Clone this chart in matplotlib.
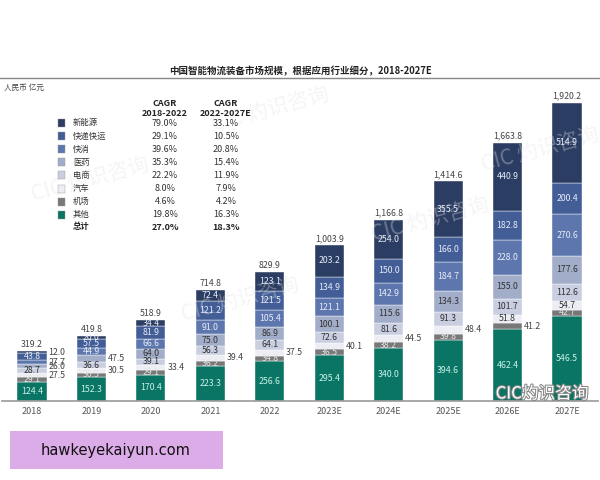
import matplotlib.pyplot as plt
import matplotlib.patheffects as pe
import numpy as np

plt.rcParams['font.family'] = ['Noto Sans CJK SC', 'DejaVu Sans']

# data (亿元), stacked bottom -> top
years = ['2018', '2019', '2020', '2021', '2022', '2023E', '2024E', '2025E', '2026E', '2027E']
series = ['其他', '机场', '汽车', '电商', '医药', '快消', '快递快运', '新能源']
qita = [124.4, 152.3, 170.4, 223.3, 256.6, 295.4, 340.0, 394.6, 462.4, 546.5]
jichang = [29.1, 30.5, 29.1, 36.2, 34.8, 36.5, 38.2, 39.8, 41.2, 42.7]
qiche = [27.5, 30.5, 33.4, 39.4, 37.5, 40.1, 44.5, 48.4, 51.8, 54.7]
dianshang = [28.7, 36.6, 39.1, 56.3, 64.1, 72.6, 81.6, 91.3, 101.7, 112.6]
yiyao = [26.0, 47.5, 64.0, 75.0, 86.9, 100.1, 115.6, 134.3, 155.0, 177.6]
kuaixiao = [27.7, 44.9, 66.6, 91.0, 105.4, 121.1, 142.9, 184.7, 228.0, 270.6]
kuaidi = [43.8, 57.5, 81.9, 121.2, 121.5, 134.9, 150.0, 166.0, 182.8, 200.4]
xinnengyuan = [12.0, 20.0, 34.4, 72.4, 123.1, 203.2, 254.0, 355.5, 440.9, 514.9]
totals = [319.2, 419.8, 518.9, 714.8, 829.9, 1003.9, 1166.8, 1414.6, 1663.8, 1920.2]

cagr_1822 = ['19.8%', '4.6%', '8.0%', '22.2%', '35.3%', '39.6%', '29.1%', '79.0%']
cagr_2227 = ['16.3%', '4.2%', '7.9%', '11.9%', '15.4%', '20.8%', '10.5%', '33.1%']

values = [qita, jichang, qiche, dianshang, yiyao, kuaixiao, kuaidi, xinnengyuan]
colors = ['#0b7565', '#787878', '#eceef4', '#c9cee1', '#a2adc9', '#5d76ad', '#435e97', '#2c3d63']
text_colors = ['#c8f2ea', '#e6e6e6', '#333333', '#333333', '#333333', '#e6ecf8', '#e6ecf8', '#e6ecf8']

# labels drawn to the right of the bar (series index, year index)
outside = {(7, 0), (5, 0), (4, 0), (2, 0), (4, 1), (2, 1), (2, 2), (2, 3), (2, 4),
           (2, 5), (2, 6), (2, 7), (1, 8)}

fig = plt.figure(figsize=(6, 4.8), dpi=100)


def px(x, y):
    return x / 600, 1 - y / 480


# faint watermarks (behind everything)
for wx, wy in [(90, 180), (270, 110), (240, 300), (430, 220), (540, 150)]:
    fig.text(*px(wx, wy), 'CIC 灼识咨询', ha='center', va='center', fontsize=15, rotation=15,
             color='#e2e2e2', alpha=0.35, zorder=0)

ax = fig.add_axes([2 / 600, 1 - 401 / 480, 596 / 600, 321 / 480])
x = np.arange(len(years))
w = 0.49
bottom = np.zeros(len(years))
for i, vals in enumerate(values):
    vals = np.array(vals)
    ax.bar(x, vals, w, bottom=bottom, color=colors[i], edgecolor='white', linewidth=0.3, zorder=2)
    for j, v in enumerate(vals):
        yc = bottom[j] + v / 2
        if (i, j) in outside:
            ax.text(x[j] + w / 2 + 0.03, yc, f'{v:.1f}', ha='left', va='center',
                    fontsize=6.3, color='#444444', zorder=3)
        else:
            ax.text(x[j], yc, f'{v:.1f}', ha='center', va='center',
                    fontsize=6.3, color=text_colors[i], zorder=3)
    bottom += vals

for j, t in enumerate(totals):
    ax.text(x[j], bottom[j] + 14, f'{t:,.1f}', ha='center', va='bottom', fontsize=6.3, color='#444444')

ax.set_xlim(-0.505, 9.522)
ax.set_ylim(0, 2068)
ax.set_xticks(x)
ax.set_xticklabels(years, fontsize=6.5, color='#555555')
ax.tick_params(axis='x', length=0, pad=4)
ax.set_yticks([])
for s in ['top', 'right', 'left']:
    ax.spines[s].set_visible(False)
ax.spines['bottom'].set_color('#999999')
ax.spines['bottom'].set_linewidth(1.2)
ax.patch.set_alpha(0)

# title and header line
fig.text(*px(300, 71), '中国智能物流装备市场规模，根据应用行业细分，2018-2027E', ha='center', va='center',
         fontsize=6.8, fontweight='bold', color='#222222')
fig.add_artist(plt.Line2D([0, 1], [1 - 78 / 480] * 2, color='#888888', lw=1.0))
fig.text(*px(4, 88), '人民币 亿元', ha='left', va='center', fontsize=5.5, color='#444444')

# legend table
fig.text(*px(165, 103), 'CAGR', ha='center', va='center', fontsize=6.5, fontweight='bold', color='#222222')
fig.text(*px(165, 113), '2018-2022', ha='center', va='center', fontsize=6.5, fontweight='bold', color='#222222')
fig.text(*px(226, 103), 'CAGR', ha='center', va='center', fontsize=6.5, fontweight='bold', color='#222222')
fig.text(*px(226, 113), '2022-2027E', ha='center', va='center', fontsize=6.5, fontweight='bold', color='#222222')
for k, i in enumerate(range(len(series) - 1, -1, -1)):
    yy = 123 + k * 13.1
    x0, y0 = px(58, yy + 4)
    fig.add_artist(plt.Rectangle((x0, y0), 7 / 600, 8 / 480, transform=fig.transFigure,
                                 facecolor=colors[i], edgecolor='#999999', lw=0.3))
    fig.text(*px(73, yy), series[i], ha='left', va='center', fontsize=6, color='#333333')
    fig.text(*px(165, yy), cagr_1822[i], ha='center', va='center', fontsize=6.5, color='#333333')
    fig.text(*px(226, yy), cagr_2227[i], ha='center', va='center', fontsize=6.5, color='#333333')
fig.text(*px(73, 227), '总计', ha='left', va='center', fontsize=6, fontweight='bold', color='#222222')
fig.text(*px(165, 227), '27.0%', ha='center', va='center', fontsize=6.5, fontweight='bold', color='#222222')
fig.text(*px(226, 227), '18.3%', ha='center', va='center', fontsize=6.5, fontweight='bold', color='#222222')

# overlay watermark bottom right
fig.text(*px(542, 394), 'CIC灼识咨询', ha='center', va='center', fontsize=12, color='white',
         path_effects=[pe.withStroke(linewidth=1.5, foreground='#888888')], zorder=5)

# pink banner
bx, by = px(10, 469)
fig.add_artist(plt.Rectangle((bx, by), 213 / 600, 38 / 480, transform=fig.transFigure,
                             facecolor='#dcace9', edgecolor='none'))
fig.text(*px(116, 450), 'hawkeyekaiyun.com', ha='center', va='center', fontsize=10.5,
         color='#111111', family='DejaVu Sans')

fig.savefig('out.png', dpi=100)
